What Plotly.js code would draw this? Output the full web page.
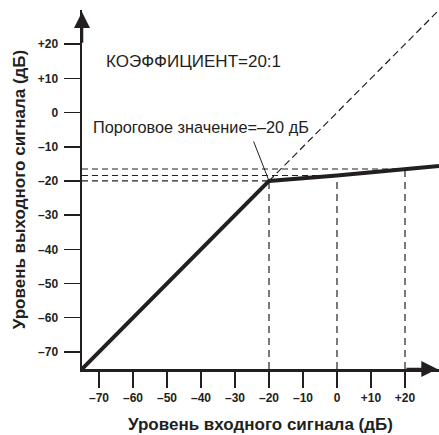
<!DOCTYPE html>
<html>
<head>
<meta charset="utf-8">
<script src="https://cdn.plot.ly/plotly-3.0.1.min.js"></script>
<style>html,body{margin:0;padding:0;background:#fff;}#chart{width:439px;height:435px;}</style>
</head>
<body>
<div id="chart"></div>
<script>
// Transfer curve (input dB -> output dB)
const curveIn  = [-75, -20, 0, 20, 30];
const curveOut = [-75, -20, -18.4, -16.5, -15.6];
// Unity (1:1) reference line above threshold
const unityIn  = [-20, 30];
const unityOut = [-20, 30];
// Marked input levels and their outputs
const markIn  = [-20, 0, 20];
const markOut = [-20, -18.4, -16.5];
// Ticks
const tickVals = [-70, -60, -50, -40, -30, -20, -10, 0, 10, 20];
const tickText = ['–70', '–60', '–50', '–40', '–30', '–20', '–10', '0', '+10', '+20'];
const axisMin = -75, axisMax = 30;

const ink = '#231f20';
const font = 'Liberation Sans, Arial, Helvetica, sans-serif';

const vx = [], vy = [], hx = [], hy = [];
markIn.forEach((m, i) => {
  vx.push(m, m, null); vy.push(axisMin, markOut[i], null);
  hx.push(axisMin, m, null); hy.push(markOut[i], markOut[i], null);
});

const traces = [
  {x: vx, y: vy, mode: 'lines', line: {color: ink, width: 1.2, dash: '7px,5px'}, hoverinfo: 'skip'},
  {x: hx, y: hy, mode: 'lines', line: {color: ink, width: 1.2, dash: '6px,4px'}, hoverinfo: 'skip'},
  {x: unityIn, y: unityOut, mode: 'lines', line: {color: ink, width: 1.2, dash: '7px,4px'}, hoverinfo: 'skip'},
  {x: curveIn, y: curveOut, mode: 'lines', line: {color: ink, width: 4}, hoverinfo: 'skip'}
];

const axisCommon = {
  range: [axisMin, axisMax],
  tickvals: tickVals, ticktext: tickText,
  ticks: 'outside', ticklen: 16, tickwidth: 1.5, tickcolor: ink,
  showline: true, linewidth: 2.5, linecolor: ink,
  showgrid: false, zeroline: false, fixedrange: true,
  tickfont: {family: font, size: 12, color: ink, weight: 'bold'}
};

const layout = {
  width: 439, height: 435,
  margin: {l: 82, r: 0, t: 10, b: 66},
  paper_bgcolor: '#fff', plot_bgcolor: '#fff',
  showlegend: false,
  xaxis: Object.assign({}, axisCommon, {
    title: {text: 'Уровень входного сигнала (дБ)', standoff: 14,
            font: {family: font, size: 17, color: ink, weight: 'bold'}}
  }),
  yaxis: Object.assign({}, axisCommon, {
    ticklabelstandoff: 3,
    title: {text: 'Уровень выходного сигнала (дБ)', standoff: 8,
            font: {family: font, size: 17, color: ink, weight: 'bold'}}
  }),
  annotations: [
    {x: -68.4, y: 15, xref: 'x', yref: 'y', xanchor: 'left', yanchor: 'middle',
     text: 'КОЭФФИЦИЕНТ=20:1', showarrow: false, font: {family: font, size: 17, color: ink}},
    {x: -72.4, y: -4.2, xref: 'x', yref: 'y', xanchor: 'left', yanchor: 'middle',
     text: 'Пороговое значение=–20 дБ', showarrow: false, font: {family: font, size: 16.3, color: ink}},
    {x: -20, y: -20, xref: 'x', yref: 'y', text: '', showarrow: true, arrowhead: 0,
     arrowwidth: 1, arrowcolor: ink, ax: -16, ay: -41, standoff: 0},
    {x: 29.5, y: axisMin, xref: 'x', yref: 'y', axref: 'x', ayref: 'y', ax: 20, ay: axisMin,
     text: '', showarrow: true, arrowhead: 2, arrowwidth: 2.5, arrowsize: 1.28, arrowcolor: ink},
    {x: axisMin, y: 29.4, xref: 'x', yref: 'y', axref: 'x', ayref: 'y', ax: axisMin, ay: 20,
     text: '', showarrow: true, arrowhead: 2, arrowwidth: 2.5, arrowsize: 1.28, arrowcolor: ink}
  ]
};

Plotly.newPlot('chart', traces, layout, {staticPlot: true, displayModeBar: false});
</script>
</body>
</html>
